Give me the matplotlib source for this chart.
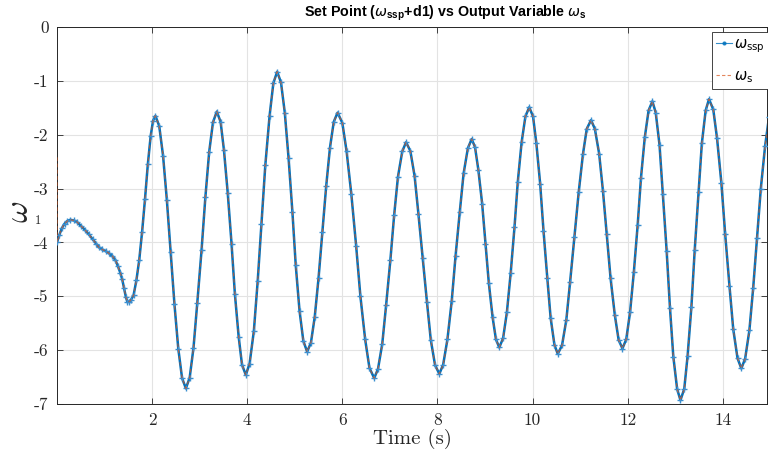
import matplotlib
matplotlib.use("Agg")
import matplotlib.pyplot as plt
from matplotlib.lines import Line2D

# ---- data ----
time_s = [
    0.00, 0.05, 0.10, 0.16, 0.22, 0.28, 0.35, 0.42, 0.50, 0.58, 0.67, 0.75, 0.82, 0.88,
    0.95, 1.02, 1.09, 1.16, 1.23, 1.28, 1.33, 1.37, 1.41, 1.45, 1.48, 1.52, 1.56, 1.61,
    1.67, 1.73, 1.79, 1.85, 1.91, 1.97, 2.02, 2.07,
    2.15, 2.23, 2.31, 2.39, 2.47, 2.55, 2.63, 2.71,
    2.79, 2.87, 2.95, 3.04, 3.12, 3.20, 3.28, 3.36,
    3.44, 3.51, 3.59, 3.67, 3.74, 3.82, 3.89, 3.97,
    4.05, 4.14, 4.22, 4.30, 4.38, 4.47, 4.55, 4.63,
    4.71, 4.79, 4.87, 4.95, 5.02, 5.10, 5.18, 5.26,
    5.34, 5.42, 5.50, 5.58, 5.66, 5.74, 5.82, 5.90,
    6.00, 6.09, 6.19, 6.29, 6.38, 6.48, 6.57, 6.67,
    6.75, 6.84, 6.92, 7.01, 7.09, 7.17, 7.26, 7.34,
    7.43, 7.52, 7.60, 7.69, 7.78, 7.86, 7.95, 8.04,
    8.12, 8.21, 8.30, 8.38, 8.47, 8.55, 8.64, 8.72,
    8.79, 8.86, 8.94, 9.01, 9.08, 9.16, 9.23, 9.30,
    9.38, 9.46, 9.54, 9.62, 9.69, 9.77, 9.85, 9.93,
    10.01, 10.08, 10.16, 10.23, 10.31, 10.38, 10.46, 10.53,
    10.62, 10.71, 10.79, 10.88, 10.97, 11.06, 11.14, 11.23,
    11.31, 11.40, 11.48, 11.56, 11.64, 11.73, 11.81, 11.89,
    11.97, 12.05, 12.13, 12.21, 12.28, 12.36, 12.44, 12.52,
    12.59, 12.67, 12.74, 12.82, 12.89, 12.96, 13.04, 13.11,
    13.19, 13.26, 13.34, 13.41, 13.49, 13.56, 13.64, 13.71,
    13.80, 13.88, 13.97, 14.05, 14.14, 14.22, 14.31, 14.39,
    14.47, 14.56, 14.64, 14.72, 14.80, 14.89, 14.97, 15.05,
]
omega_ssp = [
    -4.00, -3.86, -3.74, -3.65, -3.60, -3.58, -3.59, -3.62, -3.69, -3.76, -3.85, -3.94, -4.02, -4.09,
    -4.13, -4.16, -4.20, -4.25, -4.33, -4.44, -4.56, -4.68, -4.85, -5.02, -5.10, -5.10, -5.06, -4.98,
    -4.70, -4.32, -3.80, -3.20, -2.55, -2.02, -1.74, -1.65,
    -1.84, -2.39, -3.21, -4.18, -5.15, -5.97, -6.52, -6.71,
    -6.51, -5.96, -5.12, -4.14, -3.16, -2.32, -1.77, -1.57,
    -1.76, -2.28, -3.08, -4.02, -4.95, -5.75, -6.27, -6.46,
    -6.25, -5.64, -4.72, -3.65, -2.57, -1.65, -1.04, -0.83,
    -1.03, -1.59, -2.44, -3.43, -4.42, -5.27, -5.83, -6.03,
    -5.86, -5.38, -4.66, -3.81, -2.96, -2.24, -1.76, -1.59,
    -1.78, -2.31, -3.11, -4.06, -5.00, -5.80, -6.33, -6.52,
    -6.35, -5.88, -5.17, -4.33, -3.49, -2.78, -2.31, -2.14,
    -2.30, -2.77, -3.47, -4.29, -5.11, -5.81, -6.28, -6.44,
    -6.27, -5.80, -5.09, -4.26, -3.43, -2.72, -2.25, -2.08,
    -2.23, -2.65, -3.28, -4.02, -4.75, -5.39, -5.80, -5.95,
    -5.78, -5.30, -4.57, -3.72, -2.87, -2.14, -1.66, -1.49,
    -1.66, -2.16, -2.91, -3.78, -4.66, -5.40, -5.90, -6.07,
    -5.91, -5.44, -4.73, -3.90, -3.07, -2.36, -1.89, -1.73,
    -1.89, -2.35, -3.04, -3.85, -4.66, -5.35, -5.81, -5.97,
    -5.80, -5.30, -4.55, -3.68, -2.80, -2.05, -1.55, -1.38,
    -1.59, -2.19, -3.10, -4.16, -5.22, -6.12, -6.72, -6.93,
    -6.72, -6.11, -5.20, -4.14, -3.07, -2.16, -1.55, -1.34,
    -1.53, -2.07, -2.89, -3.84, -4.80, -5.61, -6.15, -6.34,
    -6.16, -5.63, -4.84, -3.92, -3.00, -2.21, -1.68, -1.50,
]
# output variable: identical trace except the initial value at t = 0
omega_s_initial = -2.42
time_s_out = [0.0] + time_s
omega_s = [omega_s_initial] + omega_ssp

x_ticks = [2, 4, 6, 8, 10, 12, 14]
y_ticks = [-7, -6, -5, -4, -3, -2, -1, 0]

# ---- style ----
plt.rcParams["mathtext.fontset"] = "dejavusans"
plt.rcParams["axes.unicode_minus"] = False

BLUE = "#0072BD"
ORANGE = "#D95319"
AX_COL = "#262626"

fig = plt.figure(figsize=(7.68, 4.51), dpi=100)
ax = fig.add_axes([57 / 768, 1 - 404 / 451, (767 - 57) / 768, (404 - 27) / 451])

ax.plot(time_s, omega_ssp, color=BLUE, lw=1.8, marker="+", ms=5, mew=1.0,
        mec="#3b8fd0", zorder=3)
ax.plot(time_s_out, omega_s, color=ORANGE, lw=0.9, ls=(0, (3, 2)), alpha=0.7, zorder=4)

ax.set_xlim(0.0, 14.93)
ax.set_ylim(-7, 0)
ax.set_xticks(x_ticks)
ax.set_yticks(y_ticks)
ax.set_xticklabels([str(v) for v in x_ticks], family="cmr10", fontsize=12.5)
ax.set_yticklabels([str(v) for v in y_ticks], family="cmr10", fontsize=12.5)
ax.tick_params(direction="in", length=4, width=0.6, colors=AX_COL,
               top=True, right=True, pad=6)
ax.grid(True, color="#e3e3e3", lw=0.8)
ax.set_axisbelow(True)
for s in ax.spines.values():
    s.set_color(AX_COL)
    s.set_linewidth(0.7)

ax.set_xlabel("Time (s)", family="cmr10", fontsize=15, color=AX_COL, labelpad=1)

# y label: rotated omega with upright subscript 1
ax.set_ylabel(r"$\omega$", fontsize=24, math_fontfamily="cm", color=AX_COL, rotation=90)
ax.yaxis.set_label_coords((19 - 57) / 710, (404 - 212) / 377)
ax.yaxis.label.set_va("center")
ax.yaxis.label.set_ha("center")
fig.text(35 / 768, 1 - 221 / 451, "1", fontsize=9, family="cmr10",
         ha="left", va="center", color=AX_COL)

fig.text(445 / 768, 1 - 13 / 451,
         r"Set Point ($\omega_{\mathregular{ssp}}$+d1) vs Output Variable $\omega_{\mathregular{s}}$",
         fontsize=10.3, fontweight="bold", family="Liberation Sans", color="black",
         ha="center", va="center")

handles = [
    Line2D([], [], color=BLUE, lw=0.8, marker=".", ms=4, alpha=0.8),
    Line2D([], [], color=ORANGE, lw=0.8, ls=(0, (3, 2)), alpha=0.7),
]
labels = [r"$\omega_{\mathregular{ssp}}$", r"$\omega_{\mathregular{s}}$"]
leg = fig.legend(handles, labels, loc="upper left", bbox_to_anchor=(712 / 768, 1 - 32 / 451),
                 fontsize=10.5, handlelength=1.1, handletextpad=0.1, borderaxespad=0.0,
                 fancybox=False, framealpha=1, edgecolor=AX_COL,
                 borderpad=0.3, labelspacing=0.9)
leg.get_frame().set_linewidth(0.6)

fig.savefig("out.png", dpi=100)
